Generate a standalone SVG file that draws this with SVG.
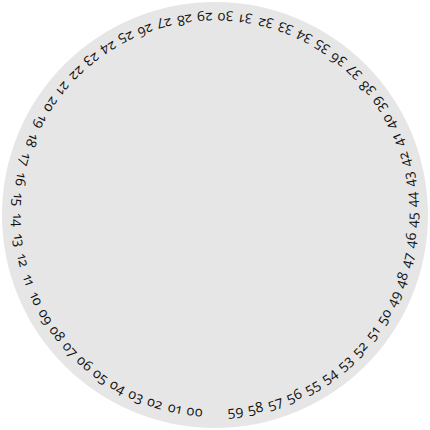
<svg xmlns="http://www.w3.org/2000/svg" width="430" height="430" viewBox="0 0 430 430">
<style>
.dial{fill:#e6e6e6}
.nums text{font-family:"Open Sans","Noto Sans",sans-serif;font-size:14px;fill:#111;text-anchor:middle;font-variant-numeric:oldstyle-nums proportional-nums;font-feature-settings:"onum" 1,"pnum" 1}
</style>
<rect width="430" height="430" fill="#fff"/>
<circle class="dial" cx="215" cy="215" r="213"/>
<g class="nums">
<text x="215" y="417" transform="rotate(-5.902 215 215)">59</text>
<text x="215" y="417" transform="rotate(-11.803 215 215)">58</text>
<text x="215" y="417" transform="rotate(-17.705 215 215)">57</text>
<text x="215" y="417" transform="rotate(-23.607 215 215)">56</text>
<text x="215" y="417" transform="rotate(-29.508 215 215)">55</text>
<text x="215" y="417" transform="rotate(-35.410 215 215)">54</text>
<text x="215" y="417" transform="rotate(-41.311 215 215)">53</text>
<text x="215" y="417" transform="rotate(-47.213 215 215)">52</text>
<text x="215" y="417" transform="rotate(-53.115 215 215)">51</text>
<text x="215" y="417" transform="rotate(-59.016 215 215)">50</text>
<text x="215" y="417" transform="rotate(-64.918 215 215)">49</text>
<text x="215" y="417" transform="rotate(-70.820 215 215)">48</text>
<text x="215" y="417" transform="rotate(-76.721 215 215)">47</text>
<text x="215" y="417" transform="rotate(-82.623 215 215)">46</text>
<text x="215" y="417" transform="rotate(-88.525 215 215)">45</text>
<text x="215" y="417" transform="rotate(-94.426 215 215)">44</text>
<text x="215" y="417" transform="rotate(-100.328 215 215)">43</text>
<text x="215" y="417" transform="rotate(-106.230 215 215)">42</text>
<text x="215" y="417" transform="rotate(-112.131 215 215)">41</text>
<text x="215" y="417" transform="rotate(-118.033 215 215)">40</text>
<text x="215" y="417" transform="rotate(-123.934 215 215)">39</text>
<text x="215" y="417" transform="rotate(-129.836 215 215)">38</text>
<text x="215" y="417" transform="rotate(-135.738 215 215)">37</text>
<text x="215" y="417" transform="rotate(-141.639 215 215)">36</text>
<text x="215" y="417" transform="rotate(-147.541 215 215)">35</text>
<text x="215" y="417" transform="rotate(-153.443 215 215)">34</text>
<text x="215" y="417" transform="rotate(-159.344 215 215)">33</text>
<text x="215" y="417" transform="rotate(-165.246 215 215)">32</text>
<text x="215" y="417" transform="rotate(-171.148 215 215)">31</text>
<text x="215" y="417" transform="rotate(-177.049 215 215)">30</text>
<text x="215" y="417" transform="rotate(-182.951 215 215)">29</text>
<text x="215" y="417" transform="rotate(-188.852 215 215)">28</text>
<text x="215" y="417" transform="rotate(-194.754 215 215)">27</text>
<text x="215" y="417" transform="rotate(-200.656 215 215)">26</text>
<text x="215" y="417" transform="rotate(-206.557 215 215)">25</text>
<text x="215" y="417" transform="rotate(-212.459 215 215)">24</text>
<text x="215" y="417" transform="rotate(-218.361 215 215)">23</text>
<text x="215" y="417" transform="rotate(-224.262 215 215)">22</text>
<text x="215" y="417" transform="rotate(-230.164 215 215)">21</text>
<text x="215" y="417" transform="rotate(-236.066 215 215)">20</text>
<text x="215" y="417" transform="rotate(-241.967 215 215)">19</text>
<text x="215" y="417" transform="rotate(-247.869 215 215)">18</text>
<text x="215" y="417" transform="rotate(-253.770 215 215)">17</text>
<text x="215" y="417" transform="rotate(-259.672 215 215)">16</text>
<text x="215" y="417" transform="rotate(-265.574 215 215)">15</text>
<text x="215" y="417" transform="rotate(-271.475 215 215)">14</text>
<text x="215" y="417" transform="rotate(-277.377 215 215)">13</text>
<text x="215" y="417" transform="rotate(-283.279 215 215)">12</text>
<text x="215" y="417" transform="rotate(-289.180 215 215)">11</text>
<text x="215" y="417" transform="rotate(-295.082 215 215)">10</text>
<text x="215" y="417" transform="rotate(-300.984 215 215)">09</text>
<text x="215" y="417" transform="rotate(-306.885 215 215)">08</text>
<text x="215" y="417" transform="rotate(-312.787 215 215)">07</text>
<text x="215" y="417" transform="rotate(-318.689 215 215)">06</text>
<text x="215" y="417" transform="rotate(-324.590 215 215)">05</text>
<text x="215" y="417" transform="rotate(-330.492 215 215)">04</text>
<text x="215" y="417" transform="rotate(-336.393 215 215)">03</text>
<text x="215" y="417" transform="rotate(-342.295 215 215)">02</text>
<text x="215" y="417" transform="rotate(-348.197 215 215)">01</text>
<text x="215" y="417" transform="rotate(-354.098 215 215)">00</text>
</g>
</svg>
